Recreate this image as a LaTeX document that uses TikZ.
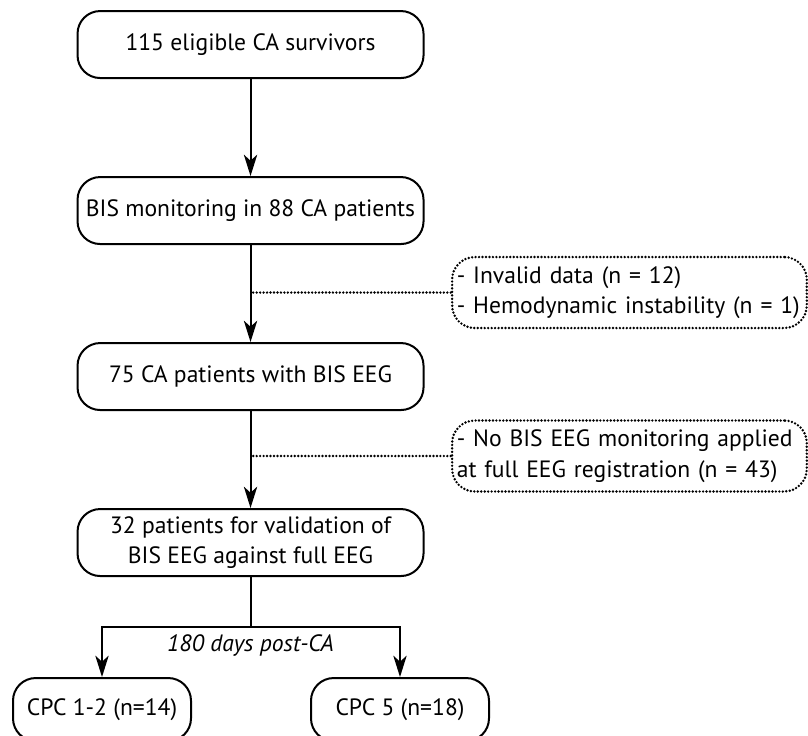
\documentclass[tikz,border=0pt]{standalone}
\usepackage{fontspec}
\setmainfont{PT Sans}
\usetikzlibrary{arrows.meta, positioning}

\begin{document}
\begin{tikzpicture}[
  node distance=72.75pt,
  box/.style={rectangle, rounded corners=17pt, draw, line width=1.5pt,
              minimum width=259.5pt, minimum height=50.25pt, align=center,
              font=\fontsize{17.7}{22}\selectfont},
  outbox/.style={box, minimum width=133.5pt, minimum height=47.25pt},
  excl/.style={rectangle, rounded corners=17pt, draw, dots, inner xsep=3.5pt,
               minimum height=53.25pt, text width=259pt, align=left,
               font=\fontsize{17.7}{23}\selectfont},
  dots/.style={line width=2pt, line cap=round, dash pattern=on 0pt off 2.6pt},
  arr/.style={-{Stealth[length=16pt, width=10pt, inset=4.5pt]}, line width=1.5pt},
  lbl/.style={font=\fontsize{17.7}{20}\selectfont\itshape}
]
\useasboundingbox (0,0) rectangle (606pt,-552pt);

% main chain
\node[box] (elig) at (187.9pt,-33.4pt) {115 eligible CA survivors};
\node[box, below=of elig] (bism) {BIS monitoring in 88 CA patients};
\node[box, below=of bism] (biseeg) {75 CA patients with BIS EEG};
\node[box, below=of biseeg] (valid) {32 patients for validation of\\BIS EEG against full EEG};

% exclusions
\node[excl] (ex1) at (472.1pt,-219.4pt) {- Invalid data (n = 12)\\- Hemodynamic instability (n = 1)};
\node[excl] (ex2) at (472.1pt,-342pt) {- No BIS EEG monitoring applied\\at full EEG registration (n = 43)};

% outcome
\coordinate[below=37.5pt of valid.south] (split);
\node[outbox, below=75pt of valid, xshift=-111.4pt] (cpc12) {CPC 1-2 (n=14)};
\node[outbox, below=75pt of valid, xshift=112.1pt] (cpc5) {CPC 5 (n=18)};
\node[lbl, below=2.5pt of split] (days) {180 days post-CA};

\draw[arr] (elig) -- (bism);
\draw[arr] (bism) -- (biseeg);
\draw[arr] (biseeg) -- (valid);
\draw[line width=1.5pt] (valid) -- (split);
\draw[arr] (split) -| (cpc12);
\draw[arr] (split) -| (cpc5);

\draw[dots] (ex1.west) -- (ex1.west -| bism.south);
\draw[dots] (ex2.west) -- (ex2.west -| biseeg.south);

\end{tikzpicture}
\end{document}
